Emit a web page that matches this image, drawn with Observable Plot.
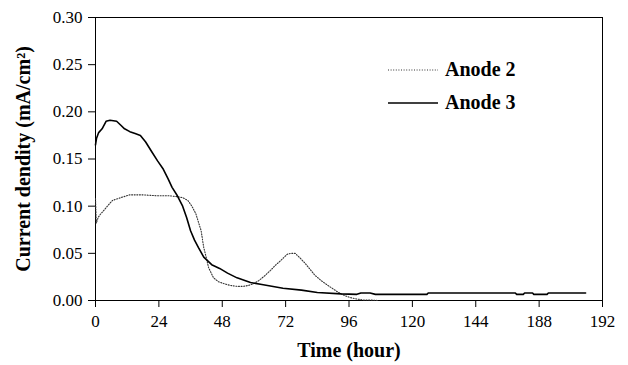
<!DOCTYPE html>
<html>
<head>
<meta charset="utf-8">
<script src="https://cdn.jsdelivr.net/npm/d3@7"></script>
<script src="https://cdn.jsdelivr.net/npm/@observablehq/plot@0.6"></script>
<style>
  html, body { margin: 0; padding: 0; background: white; }
  #wrap { position: relative; width: 628px; height: 365px; }
  #legend { position: absolute; left: 388px; top: 53px; font-family: "Liberation Serif", "Times New Roman", "DejaVu Serif", serif; font-weight: bold; font-size: 20px; color: black; }
  .row { height: 33px; display: flex; align-items: center; }
  .row svg { margin-right: 7px; }
</style>
</head>
<body>
<div id="wrap"></div>
<script>
const FONT = "'Liberation Serif', 'Times New Roman', 'DejaVu Serif', serif";
const seriesNames = ["Anode 2", "Anode 3"];

const hoursAnode2 = [0,0.3,1,2,3,4.5,6.4,9.5,13,18,23.5,28,31,33,35,36.5,38,39,40,41,42,42.8,44.7,46.5,48.5,51,53.6,56,58,60,61.8,64,66.3,68,70,72.6,74,75.6,77.5,79.5,83,85.5,88,92,94.5,96.6,99,101.5,104,107];
const valuesAnode2 = [0.108,0.082,0.088,0.092,0.095,0.1,0.106,0.109,0.112,0.112,0.111,0.111,0.11,0.109,0.106,0.1,0.092,0.083,0.074,0.056,0.045,0.035,0.024,0.02,0.018,0.016,0.015,0.015,0.016,0.018,0.021,0.026,0.032,0.037,0.042,0.049,0.05,0.05,0.045,0.039,0.027,0.021,0.016,0.0085,0.005,0.003,0.0015,0.0005,0.0005,0];

const hoursAnode3 = [0,0.4,1.2,2.5,4,5.5,8,9.5,11,13,15,17,19,21,23.5,25.5,27.5,29,31,33,34.5,36,37.5,39,41,44,47,50,53.6,58.7,63,71,78,84,93,99,100.5,104,106,125.5,126,159,159.5,162,162.5,165.5,166,171,171.5,185.6];
const valuesAnode3 = [0.165,0.172,0.178,0.182,0.19,0.191,0.19,0.186,0.182,0.179,0.177,0.175,0.168,0.159,0.148,0.14,0.129,0.12,0.111,0.1,0.088,0.074,0.064,0.056,0.046,0.038,0.034,0.029,0.024,0.019,0.017,0.013,0.011,0.0085,0.007,0.0065,0.008,0.008,0.0065,0.0065,0.008,0.008,0.0065,0.0065,0.008,0.008,0.0065,0.0065,0.008,0.008];

const xTicks = [0,24,48,72,96,120,144,168,192];
const xTickLabels = ["0","24","48","72","96","120","144","188","192"];
const yTicks = [0,0.05,0.1,0.15,0.2,0.25,0.3];
const xLabel = "Time (hour)";
const yLabel = "Current dendity (mA/cm²)";

const anode2 = hoursAnode2.map((h, i) => ({hour: h, value: valuesAnode2[i]}));
const anode3 = hoursAnode3.map((h, i) => ({hour: h, value: valuesAnode3[i]}));

const chart = Plot.plot({
  width: 628,
  height: 365,
  marginLeft: 95,
  marginRight: 26,
  marginTop: 17,
  marginBottom: 65,
  style: {fontFamily: FONT, fontSize: "17px", color: "black", background: "white"},
  x: {domain: [0, 192]},
  y: {domain: [0, 0.3]},
  marks: [
    Plot.frame({stroke: "black", strokeWidth: 1}),
    Plot.axisX({ticks: xTicks, tickFormat: d => xTickLabels[xTicks.indexOf(d)], tickSize: 7, tickPadding: 7, label: null, fontSize: 17, fontFamily: FONT}),
    Plot.axisY({ticks: yTicks, tickFormat: d => d.toFixed(2), tickSize: 7, tickPadding: 6, label: null, fontSize: 17, fontFamily: FONT}),
    Plot.line(anode2, {x: "hour", y: "value", stroke: "#333", strokeWidth: 1.1, strokeDasharray: "1,1.6"}),
    Plot.line(anode3, {x: "hour", y: "value", stroke: "black", strokeWidth: 1.6}),
    Plot.text([xLabel], {frameAnchor: "bottom", dy: 56, text: d => d, fontWeight: "bold", fontSize: 20, fontFamily: FONT}),
    Plot.text([yLabel], {frameAnchor: "left", textAnchor: "middle", dx: -72, rotate: -90, text: d => d, fontWeight: "bold", fontSize: 20, fontFamily: FONT})
  ]
});

const wrap = document.getElementById("wrap");
wrap.appendChild(chart);

const legend = document.createElement("div");
legend.id = "legend";
const dashes = ["1,1.6", null];
const widths = [1.1, 1.6];
const colors = ["#333", "black"];
seriesNames.forEach((name, i) => {
  const row = document.createElement("div");
  row.className = "row";
  row.innerHTML = `<svg width="50" height="6"><line x1="0" x2="50" y1="3" y2="3" stroke="${colors[i]}" stroke-width="${widths[i]}" ${dashes[i] ? `stroke-dasharray="${dashes[i]}"` : ""}></line></svg><span>${name}</span>`;
  legend.appendChild(row);
});
wrap.appendChild(legend);
</script>
</body>
</html>
